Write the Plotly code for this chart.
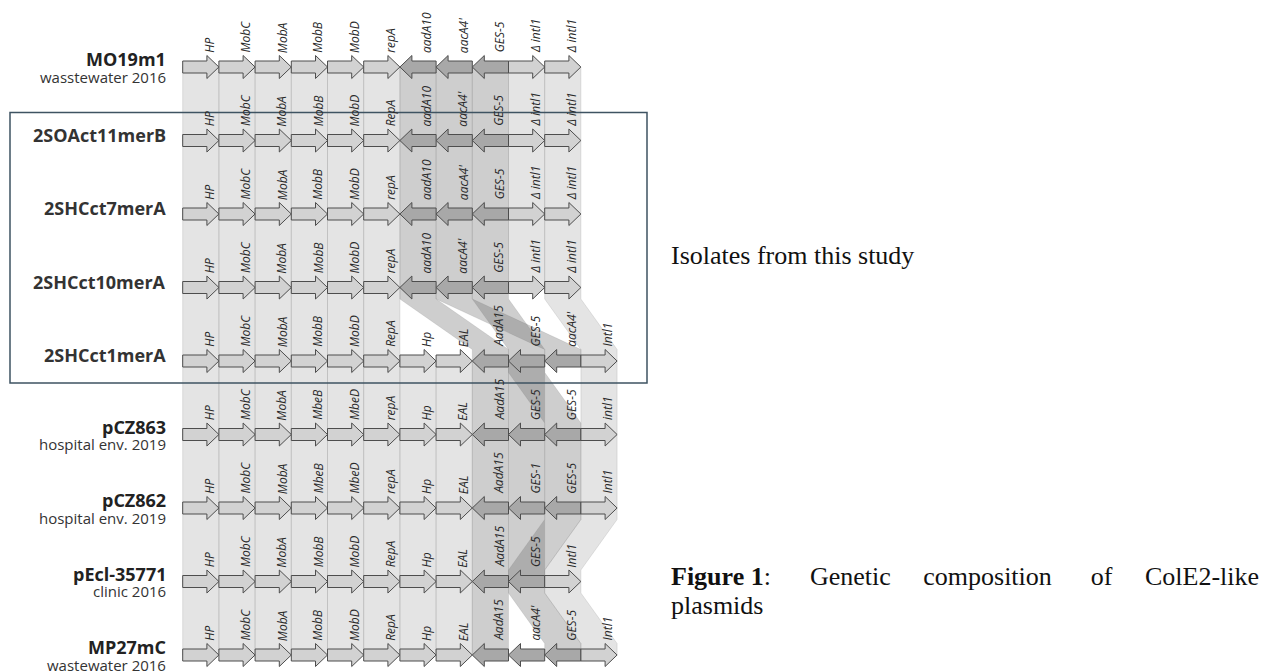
import plotly.graph_objects as go

# ---------------- data ----------------
strains = ["MO19m1", "2SOAct11merB", "2SHCct7merA", "2SHCct10merA", "2SHCct1merA",
           "pCZ863", "pCZ862", "pEcl-35771", "MP27mC"]
sources = ["wasstewater 2016", "", "", "", "", "hospital env. 2019",
           "hospital env. 2019", "clinic 2016", "wastewater 2016"]

genes = [
    ["HP", "MobC", "MobA", "MobB", "MobD", "repA", "aadA10", "aacA4'", "GES-5", "Δ intl1", "Δ intl1"],
    ["HP", "MobC", "MobA", "MobB", "MobD", "RepA", "aadA10", "aacA4'", "GES-5", "Δ intl1", "Δ intl1"],
    ["HP", "MobC", "MobA", "MobB", "MobD", "repA", "aadA10", "aacA4'", "GES-5", "Δ intl1", "Δ intl1"],
    ["HP", "MobC", "MobA", "MobB", "MobD", "repA", "aadA10", "aacA4'", "GES-5", "Δ intl1", "Δ intl1"],
    ["HP", "MobC", "MobA", "MobB", "MobD", "RepA", "Hp", "EAL", "AadA15", "GES-5", "aacA4'", "Intl1"],
    ["HP", "MobC", "MobA", "MbeB", "MbeD", "repA", "Hp", "EAL", "AadA15", "GES-5", "GES-5", "intl1"],
    ["HP", "MobC", "MobA", "MbeB", "MbeD", "repA", "Hp", "EAL", "AadA15", "GES-1", "GES-5", "Intl1"],
    ["HP", "MobC", "MobA", "MobB", "MobD", "RepA", "Hp", "EAL", "AadA15", "GES-5", "Intl1"],
    ["HP", "MobC", "MobA", "MobB", "MobD", "RepA", "Hp", "EAL", "AadA15", "aacA4'", "GES-5", "Intl1"],
]
strands = [
    [1, 1, 1, 1, 1, 1, -1, -1, -1, 1, 1],
    [1, 1, 1, 1, 1, 1, -1, -1, -1, 1, 1],
    [1, 1, 1, 1, 1, 1, -1, -1, -1, 1, 1],
    [1, 1, 1, 1, 1, 1, -1, -1, -1, 1, 1],
    [1, 1, 1, 1, 1, 1, 1, 1, -1, -1, -1, 1],
    [1, 1, 1, 1, 1, 1, 1, 1, -1, -1, -1, 1],
    [1, 1, 1, 1, 1, 1, 1, 1, -1, -1, -1, 1],
    [1, 1, 1, 1, 1, 1, 1, 1, -1, -1, 1],
    [1, 1, 1, 1, 1, 1, 1, 1, -1, -1, -1, 1],
]
# homology links between consecutive rows: (gene index upper, gene index lower)
links = [
    [(0, 0), (1, 1), (2, 2), (3, 3), (4, 4), (5, 5), (6, 6), (7, 7), (8, 8), (9, 9), (10, 10)],
    [(0, 0), (1, 1), (2, 2), (3, 3), (4, 4), (5, 5), (6, 6), (7, 7), (8, 8), (9, 9), (10, 10)],
    [(0, 0), (1, 1), (2, 2), (3, 3), (4, 4), (5, 5), (6, 6), (7, 7), (8, 8), (9, 9), (10, 10)],
    [(0, 0), (1, 1), (2, 2), (3, 3), (4, 4), (5, 5), (6, 8), (7, 10), (8, 9), (10, 11)],
    [(0, 0), (1, 1), (2, 2), (3, 3), (4, 4), (5, 5), (6, 6), (7, 7), (8, 8), (9, 9), (9, 10), (11, 11)],
    [(0, 0), (1, 1), (2, 2), (3, 3), (4, 4), (5, 5), (6, 6), (7, 7), (8, 8), (9, 9), (10, 10), (11, 11)],
    [(0, 0), (1, 1), (2, 2), (3, 3), (4, 4), (5, 5), (6, 6), (7, 7), (8, 8), (9, 9), (10, 9), (11, 10)],
    [(0, 0), (1, 1), (2, 2), (3, 3), (4, 4), (5, 5), (6, 6), (7, 7), (8, 8), (9, 10), (10, 11)],
]
box_rows = (1, 4)  # rows framed as "Isolates from this study"
note_text = "Isolates from this study"
caption_bold = "Figure 1"
caption_words = [":", "Genetic", "composition", "of", "ColE2-like"]
caption_line2 = "plasmids"

# ---------------- layout constants ----------------
PAD = 8                      # page body margin around the plot
W, H = 1270 - PAD, 671 - PAD
SLOT_PX, X0_PX = 36.2, 182.7 - PAD
ROW_PX, Y0_PX = 73.5, 67.0 - PAD
SHAFT = 6.0 / ROW_PX
HEAD = 11.5 / ROW_PX
HEADLEN = 12.0 / SLOT_PX

FWD_FILL, REV_FILL, OUTLINE = "#d2d2d2", "#a8a8a8", "#4d4d4d"
BAND_F, BAND_R = "rgba(150,150,150,0.26)", "rgba(110,110,110,0.34)"
BAND_LINE = "rgba(120,120,120,0.30)"


def px_x(p):
    return (p - PAD) / W


def px_y(p):
    return 1 - (p - PAD) / H


fig = go.Figure()

# homology bands
for r, pairs in enumerate(links):
    for a, b in pairs:
        col = BAND_R if strands[r][a] < 0 else BAND_F
        y1, y2 = r, r + 1
        xs = [a, a + 1, a + 1, b + 1, b + 1, b, b, a, a]
        ys = [y1, y1, y1 + HEAD, y2 - HEAD, y2, y2, y2 - HEAD, y1 + HEAD, y1]
        fig.add_trace(go.Scatter(x=xs, y=ys, mode="lines", fill="toself",
                                 fillcolor=col, line=dict(color=BAND_LINE, width=0.6),
                                 hoverinfo="skip", showlegend=False))

# gene arrows
for r, (names, strs) in enumerate(zip(genes, strands)):
    for s, (nm, d) in enumerate(zip(names, strs)):
        if d > 0:
            xs = [s, s + 1 - HEADLEN, s + 1 - HEADLEN, s + 1, s + 1 - HEADLEN, s + 1 - HEADLEN, s, s]
            fill = FWD_FILL
        else:
            xs = [s + 1, s + HEADLEN, s + HEADLEN, s, s + HEADLEN, s + HEADLEN, s + 1, s + 1]
            fill = REV_FILL
        ys = [r - SHAFT, r - SHAFT, r - HEAD, r, r + HEAD, r + SHAFT, r + SHAFT, r - SHAFT]
        fig.add_trace(go.Scatter(x=xs, y=ys, mode="lines", fill="toself", fillcolor=fill,
                                 line=dict(color=OUTLINE, width=1), hoverinfo="skip",
                                 showlegend=False))
        fig.add_annotation(x=s + 0.74, y=r - HEAD - 0.01, text=nm, textangle=-90,
                           showarrow=False, xanchor="center", yanchor="bottom",
                           font=dict(family="Open Sans", size=12, color="#2a2a2a", style="italic"))

# strain names
name_x = (168 - PAD - X0_PX) / SLOT_PX
for r, (nm, src) in enumerate(zip(strains, sources)):
    if src:
        fig.add_annotation(x=name_x, y=r - 8 / ROW_PX, text="<b>" + nm + "</b>", showarrow=False,
                           xanchor="right", yanchor="middle",
                           font=dict(family="Open Sans", size=18, color="#222222"))
        fig.add_annotation(x=name_x, y=r + 9.5 / ROW_PX, text=src, showarrow=False,
                           xanchor="right", yanchor="middle",
                           font=dict(family="Open Sans", size=15, color="#333333"))
    else:
        fig.add_annotation(x=name_x, y=r - 6 / ROW_PX, text="<b>" + nm + "</b>", showarrow=False,
                           xanchor="right", yanchor="middle",
                           font=dict(family="Open Sans", size=18, color="#333333"))

# frame around isolates from this study
fig.add_shape(type="rect", xref="x", yref="y",
              x0=(10 - PAD - X0_PX) / SLOT_PX, x1=(647 - PAD - X0_PX) / SLOT_PX,
              y0=box_rows[0] - 0.38, y1=box_rows[1] + 0.3,
              line=dict(color="#3e5362", width=1.5), fillcolor="rgba(0,0,0,0)", layer="above")

serif = dict(family="Liberation Serif", size=26, color="#111111")
fig.add_annotation(xref="paper", yref="paper", x=px_x(669), y=px_y(255), text=note_text,
                   showarrow=False, xanchor="left", yanchor="middle", font=serif)
# justified first caption line: widened word gaps
gaps = [" " + "&nbsp;" * 5, " " + "&nbsp;" * 4, " " + "&nbsp;" * 5, " " + "&nbsp;" * 4]
line1 = "<b>" + caption_bold + "</b>" + caption_words[0]
for g, w in zip(gaps, caption_words[1:]):
    line1 += g + w
fig.add_annotation(xref="paper", yref="paper", x=px_x(669), y=px_y(576), text=line1,
                   showarrow=False, xanchor="left", yanchor="middle", font=serif)
fig.add_annotation(xref="paper", yref="paper", x=px_x(669), y=px_y(605), text=caption_line2,
                   showarrow=False, xanchor="left", yanchor="middle", font=serif)

fig.update_layout(
    width=W, height=H, margin=dict(l=0, r=0, t=0, b=0),
    paper_bgcolor="white", plot_bgcolor="white",
    xaxis=dict(range=[-X0_PX / SLOT_PX, (W - X0_PX) / SLOT_PX], visible=False, fixedrange=True),
    yaxis=dict(range=[(H - Y0_PX) / ROW_PX, -Y0_PX / ROW_PX], visible=False, fixedrange=True),
)
fig.write_html("out.html")
